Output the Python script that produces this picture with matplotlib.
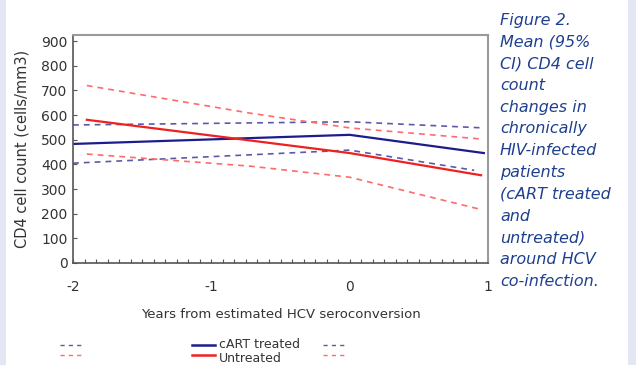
import matplotlib
matplotlib.use("Agg")
import matplotlib.pyplot as plt
from matplotlib.lines import Line2D
from matplotlib.patches import Rectangle
from matplotlib.ticker import MultipleLocator

# ---- data ----
cart_x = [-2.0, 0.0, 0.97]
cart_mean = [483, 520, 446]
cart_upper = [560, 573, 548]
cart_lower_x = [-2.0, 0.0, 0.9]
cart_lower = [405, 458, 376]

untr_x = [-1.9, 0.0, 0.95]
untr_mean = [581, 446, 356]
untr_ci_x = [-1.9, -0.72, 0.0, 0.95]
untr_upper = [720, 608, 548, 503]
untr_lower = [442, 393, 348, 217]

y_ticks = [0, 100, 200, 300, 400, 500, 600, 700, 800, 900]
x_ticks = [-2, -1, 0, 1]
x_ticklabels = ["-2", "-1", "0", "1"]

caption_lines = ["Figure 2.", "Mean (95%", "CI) CD4 cell", "count", "changes in",
                 "chronically", "HIV-infected", "patients", "(cART treated",
                 "and", "untreated)", "around HCV", "co-infection."]

# ---- styling ----
W, H = 636, 365
fig = plt.figure(figsize=(W / 100, H / 100), dpi=100)
fig.patch.set_facecolor("white")
lav = "#e4e6f4"
fig.add_artist(Rectangle((0, 0), 6 / W, 1, transform=fig.transFigure,
                         facecolor=lav, edgecolor="none", zorder=-5))
fig.add_artist(Rectangle((628 / W, 0), 1 - 628 / W, 1, transform=fig.transFigure,
                         facecolor=lav, edgecolor="none", zorder=-5))

ax = fig.add_axes([73 / W, (H - 263) / H, (488 - 73) / W, (263 - 35) / H])
ax.set_facecolor("white")

blue = "#1c1c8c"
blue_d = "#5a5aa8"
red = "#f02020"
red_d = "#ff6a6a"

ax.plot(cart_x, cart_upper, color=blue_d, lw=1.2, dashes=(3.5, 3))
ax.plot(cart_lower_x, cart_lower, color=blue_d, lw=1.2, dashes=(3.5, 3))
ax.plot(untr_ci_x, untr_upper, color=red_d, lw=1.2, dashes=(3.5, 3))
ax.plot(untr_ci_x, untr_lower, color=red_d, lw=1.2, dashes=(3.5, 3))
ax.plot(cart_x, cart_mean, color=blue, lw=1.6)
ax.plot(untr_x, untr_mean, color=red, lw=1.6)

ax.set_xlim(-2.0, 1.0)
ax.set_ylim(0, 925)
ax.set_yticks(y_ticks)
ax.set_xticks(x_ticks)
ax.set_xticklabels(x_ticklabels)
ax.xaxis.set_minor_locator(MultipleLocator(1 / 12))

tc = "#333333"
ax.tick_params(axis="both", direction="in", length=3, width=0.8, color="#555555",
               labelsize=10, labelcolor=tc)
ax.tick_params(axis="x", which="minor", direction="in", length=3, width=0.8, color="#555555")
ax.tick_params(axis="x", pad=12)
ax.tick_params(axis="y", pad=4)

for s in ["top", "right"]:
    ax.spines[s].set_color("#9a9a9a")
    ax.spines[s].set_linewidth(1.5)
for s in ["left", "bottom"]:
    ax.spines[s].set_color("#555555")
    ax.spines[s].set_linewidth(1.2)

ax.set_xlabel("Years from estimated HCV seroconversion", fontsize=9.5, color=tc, labelpad=10)
ax.set_ylabel("CD4 cell count (cells/mm3)", fontsize=10.5, color=tc, labelpad=8)

# ---- manual legend ----
def fx(px):
    return px / W

def fy(py):
    return (H - py) / H

rows = [(345, blue, blue_d, "cART treated", 344), (355, red, red_d, "Untreated", 359)]
for py, c, cd, lab, ty in rows:
    fig.add_artist(Line2D([fx(60), fx(81)], [fy(py), fy(py)], color=cd, lw=1.0,
                          dashes=(3, 3), transform=fig.transFigure))
    fig.add_artist(Line2D([fx(192), fx(215)], [fy(py), fy(py)], color=c, lw=1.8,
                          transform=fig.transFigure))
    fig.add_artist(Line2D([fx(323), fx(344)], [fy(py), fy(py)], color=cd, lw=1.0,
                          dashes=(3, 3), transform=fig.transFigure))
    fig.text(fx(219), fy(ty), lab, fontsize=9, color=tc, va="center", ha="left")

# ---- caption ----
for i, line in enumerate(caption_lines):
    fig.text(fx(500), fy(20 + 21.8 * i), line, fontsize=11.5, style="italic",
             color="#1f3f8f", va="center", ha="left")

fig.savefig("out.png", dpi=100, facecolor=fig.get_facecolor())
